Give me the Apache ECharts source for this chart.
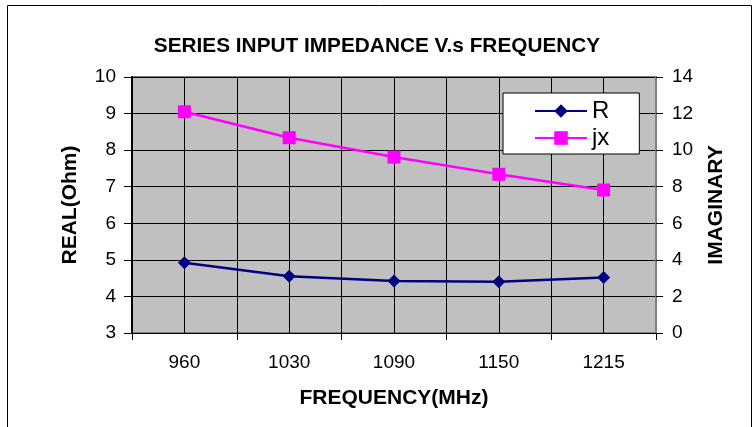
<!DOCTYPE html>
<html><head><meta charset="utf-8">
<script src="https://cdn.jsdelivr.net/npm/echarts@6/dist/echarts.min.js"></script>
<style>html,body{margin:0;padding:0;background:#fff}#c{width:754px;height:427px}</style>
</head><body><div id="c"></div>
<script>
const categories = ['960', '1030', '1090', '1150', '1215'];
const rValues = [4.92, 4.55, 4.42, 4.40, 4.52];
const jxValues = [12.1, 10.68, 9.62, 8.68, 7.82];
const halfBands = ['a','b','c','d','e','f','g','h','i','j'];
const F = 'Liberation Sans, Arial, sans-serif';
const chart = echarts.init(document.getElementById('c'));
chart.setOption({
  animation: false,
  backgroundColor: '#fff',
  title: { text: 'SERIES INPUT IMPEDANCE V.s FREQUENCY', left: 'center', top: 31,
    textStyle: { fontFamily: F, fontSize: 20.8, fontWeight: 'bold', color: '#000' } },
  graphic: [{ type: 'rect', shape: { x: 7.5, y: 5.5, width: 744, height: 440 },
    style: { fill: 'none', stroke: '#000', lineWidth: 1 }, z: -1 }],
  legend: {
    orient: 'vertical', left: 503, top: 93,
    backgroundColor: '#fff', borderColor: '#000', borderWidth: 1,
    padding: [6, 30, 4, 31], itemGap: 3, itemWidth: 52, itemHeight: 17, itemTextGap: 7,
    textStyle: { fontFamily: F, fontSize: 24, lineHeight: 24, color: '#000' },
    data: ['R', 'jx']
  },
  grid: { left: 132, top: 77, right: 98, bottom: 94, show: true,
    backgroundColor: '#C0C0C0', borderColor: '#808080', borderWidth: 2 },
  xAxis: [{
    type: 'category', data: categories, boundaryGap: true,
    axisLine: { lineStyle: { color: '#000', width: 1 } },
    axisTick: { show: true, length: 7, lineStyle: { color: '#000' } },
    axisLabel: { fontFamily: F, fontSize: 19, color: '#000', margin: 20 },
    splitLine: { show: false },
    name: 'FREQUENCY(MHz)', nameLocation: 'middle', nameGap: 55,
    nameTextStyle: { fontFamily: F, fontSize: 21, fontWeight: 'bold', color: '#000' }
  }, {
    type: 'category', data: halfBands, boundaryGap: true, position: 'top',
    axisLine: { show: false }, axisTick: { show: false }, axisLabel: { show: false },
    splitLine: { show: true, lineStyle: { color: '#000', width: 1 } }
  }],
  yAxis: [{
    type: 'value', min: 3, max: 10, interval: 1, position: 'left',
    axisLine: { show: true, lineStyle: { color: '#000', width: 2 } },
    axisTick: { show: true, length: 8, lineStyle: { color: '#000' } },
    axisLabel: { fontFamily: F, fontSize: 19, color: '#000', margin: 16 },
    splitLine: { show: true, lineStyle: { color: '#000', width: 1 } },
    name: 'REAL(Ohm)', nameLocation: 'middle', nameGap: 51, nameRotate: 90,
    nameTextStyle: { fontFamily: F, fontSize: 21, fontWeight: 'bold', color: '#000' }
  }, {
    type: 'value', min: 0, max: 14, interval: 2, position: 'right',
    axisLine: { show: true, lineStyle: { color: '#808080', width: 2 } },
    axisTick: { show: true, length: 7, lineStyle: { color: '#000' } },
    axisLabel: { fontFamily: F, fontSize: 19, color: '#000', margin: 16 },
    splitLine: { show: false },
    name: 'IMAGINARY', nameLocation: 'middle', nameGap: 50, nameRotate: 90,
    nameTextStyle: { fontFamily: F, fontSize: 21, fontWeight: 'bold', color: '#000' }
  }],
  series: [{
    name: 'R', type: 'line', xAxisIndex: 0, yAxisIndex: 0, data: rValues,
    symbol: 'diamond', symbolSize: 13,
    lineStyle: { color: '#000080', width: 2.5 }, itemStyle: { color: '#000080' }
  }, {
    name: 'jx', type: 'line', xAxisIndex: 0, yAxisIndex: 1, data: jxValues,
    symbol: 'rect', symbolSize: 13,
    lineStyle: { color: '#FF00FF', width: 2.5 }, itemStyle: { color: '#FF00FF' }
  }]
});
</script></body></html>
